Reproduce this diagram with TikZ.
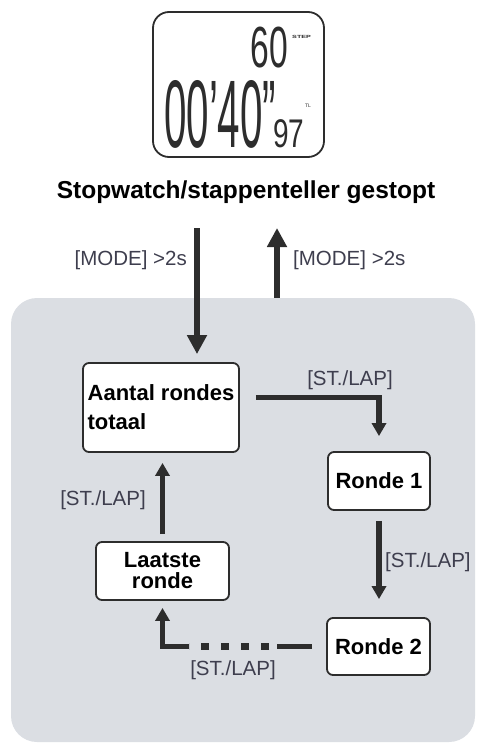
\documentclass[tikz,border=0pt]{standalone}
\usepackage{fontspec}
\setmainfont{Liberation Sans}
\usepackage{graphicx}
\usetikzlibrary{arrows.meta}
\definecolor{paneel}{RGB}{219,222,227}
\definecolor{inkt}{RGB}{45,45,45}
\definecolor{labelgrijs}{RGB}{62,62,78}

\begin{document}
\begin{tikzpicture}[x=1pt,y=-1pt,
   blok/.style={draw=inkt,line width=1.8pt,rounded corners=6pt,fill=white,
     font=\bfseries\fontsize{22}{21}\selectfont,inner sep=0pt,align=center},
   lijn/.style={draw=inkt,line width=5.5pt},
   pijl/.style={lijn,-{Triangle[width=14pt,length=13pt]}},
   grotepijl/.style={lijn,-{Triangle[width=19pt,length=19pt]}},
   knop/.style={text=labelgrijs,font=\fontsize{20.5}{22}\selectfont,inner sep=0pt},
   lcd/.style={text=inkt,inner sep=0pt}]
   \useasboundingbox (0,0) rectangle (477,744);
   % grey panel
   \node[fill=paneel,rounded corners=26pt,minimum width=464pt,minimum height=444pt,inner sep=0pt] (paneel) at (243,520) {};
   % display
   \node[draw=inkt,line width=1.8pt,rounded corners=16pt,minimum width=171pt,minimum height=145pt] (display) at (238.5,84.5) {};
   \node[lcd,anchor=base east] (stappen) at (288,67) {\scalebox{0.58}[1]{\fontsize{58}{58}\selectfont 60}};
   \node[lcd,anchor=west] (steplabel) at (292,37) {\scalebox{1.6}[1]{\bfseries\fontsize{4.5}{5}\selectfont STEP}};
   \node[lcd,anchor=base west] (tijd) at (164,147) {\scalebox{0.42}[1]{\fontsize{96}{96}\selectfont 00'40''}};
   \node[lcd,anchor=base west] (honderdste) at (273,147) {\scalebox{0.7}[1]{\fontsize{40}{40}\selectfont 97}};
   \node[lcd] (tl) at (308,106) {\fontsize{5}{5}\selectfont TL};
   \node[font=\bfseries\fontsize{24.5}{26}\selectfont] (titel) at (246,192) {Stopwatch/stappenteller gestopt};
   % states
   \node[blok,minimum width=156pt,minimum height=89pt,align=left,font=\bfseries\fontsize{22}{29}\selectfont] (totaal) at (161,407.5) {Aantal rondes\\totaal};
   \node[blok,minimum width=102pt,minimum height=58pt] (ronde1) at (379,481) {Ronde 1};
   \node[blok,minimum width=103pt,minimum height=57pt] (ronde2) at (378.5,646.5) {Ronde 2};
   \node[blok,minimum width=133pt,minimum height=58pt] (laatste) at (162.5,571) {Laatste\\ronde};
   % mode arrows
   \coordinate (heen) at (197,228);
   \coordinate (terug) at (277,228);
   \draw[grotepijl,shorten >=8pt] (heen) -- (heen |- totaal.north);
   \draw[grotepijl] (terug |- paneel.north) -- (terug);
   \node[knop,anchor=east] (modeheen) at (187,260) {[MODE] >2s};
   \node[knop,anchor=west] (moderug) at (293,260) {[MODE] >2s};
   % lap arrows
   \draw[pijl,shorten >=15pt] ([xshift=16pt,yshift=10pt]totaal.east) -| (ronde1.north);
   \draw[pijl,shorten <=10pt,shorten >=18pt] (ronde1.south) -- (ronde1.south |- ronde2.north);
   \draw[lijn] ([xshift=-14pt]ronde2.west) -- ([xshift=-49pt]ronde2.west);
   \draw[lijn,line width=7.5pt,dash pattern=on 8pt off 12pt] ([xshift=-57pt]ronde2.west) -- ([xshift=-137pt]ronde2.west);
   \draw[pijl,shorten >=7pt] ([xshift=-137pt]ronde2.west) -| (laatste.south);
   \draw[pijl,shorten <=7pt,shorten >=10pt] (laatste.north) -- (laatste.north |- totaal.south);
   \node[knop] (lap1) at (350,380) {[ST./LAP]};
   \node[knop,anchor=west] (lap2) at (385,562) {[ST./LAP]};
   \node[knop] (lap3) at (233,670) {[ST./LAP]};
   \node[knop] (lap4) at (103,500) {[ST./LAP]};
\end{tikzpicture}
\end{document}
